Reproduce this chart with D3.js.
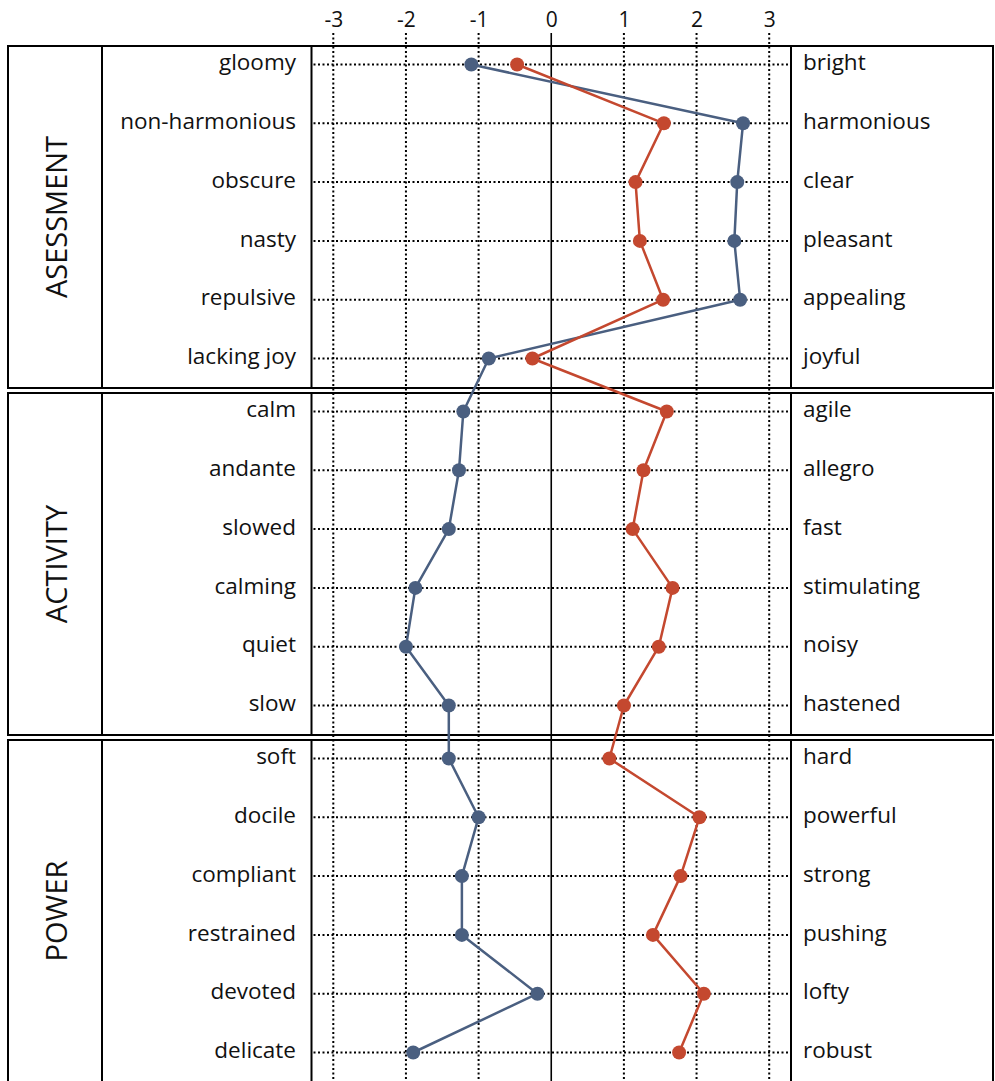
<!DOCTYPE html>
<html>
<head>
<meta charset="utf-8">
<script src="https://cdn.jsdelivr.net/npm/d3@7"></script>
<style>
  html, body { margin: 0; padding: 0; background: #fff; }
  svg { display: block; font-family: "Open Sans", "Noto Sans", sans-serif; }
</style>
</head>
<body>
<svg id="chart" width="995" height="1081"></svg>
<script>
// ---- data ----
const groups = ["ASESSMENT", "ACTIVITY", "POWER"];
const leftLabels = [
  "gloomy", "non-harmonious", "obscure", "nasty", "repulsive", "lacking joy",
  "calm", "andante", "slowed", "calming", "quiet", "slow",
  "soft", "docile", "compliant", "restrained", "devoted", "delicate"
];
const rightLabels = [
  "bright", "harmonious", "clear", "pleasant", "appealing", "joyful",
  "agile", "allegro", "fast", "stimulating", "noisy", "hastened",
  "hard", "powerful", "strong", "pushing", "lofty", "robust"
];
const blueValues = [
  -1.10, 2.64, 2.56, 2.52, 2.60, -0.86,
  -1.21, -1.27, -1.41, -1.87, -2.00, -1.41,
  -1.41, -1.00, -1.23, -1.23, -0.19, -1.90
];
const redValues = [
  -0.47, 1.55, 1.16, 1.22, 1.54, -0.26,
  1.59, 1.27, 1.12, 1.67, 1.48, 1.00,
  0.80, 2.04, 1.78, 1.40, 2.10, 1.76
];
const tickValues = [-3, -2, -1, 0, 1, 2, 3];
const tickLabels = ["-3", "-2", "-1", "0", "1", "2", "3"];
const rowsPerGroup = 6;

// ---- layout ----
const W = 995, H = 1081;
const boxLeft = 8, groupColRight = 102, labelColRight = 311.5, plotRight = 791, boxRight = 993;
const panelTop0 = 46, panelStep = 347, panelH = 342;
const blue = "#4a5f80", red = "#c4482f";

const svg = d3.select("#chart");

const x = d3.scaleLinear().domain([-3.3, 3.3]).range([labelColRight, plotRight]);
const panelTop = d3.scaleLinear().domain([0, 1]).range([panelTop0, panelTop0 + panelStep]);
const inner = d3.scalePoint().domain(d3.range(rowsPerGroup)).range([18.5, 312.5]);
const yRow = i => panelTop(Math.floor(i / rowsPerGroup)) + inner(i % rowsPerGroup);

// panels (boxes)
const panels = svg.append("g");
groups.forEach((g, k) => {
  const t = panelTop(k);
  const pg = panels.append("g");
  pg.append("rect")
    .attr("x", boxLeft).attr("y", t)
    .attr("width", boxRight - boxLeft).attr("height", panelH)
    .attr("fill", "none").attr("stroke", "#000").attr("stroke-width", 2);
  [groupColRight, labelColRight, plotRight].forEach(vx => {
    pg.append("line").attr("x1", vx).attr("x2", vx).attr("y1", t).attr("y2", t + panelH)
      .attr("stroke", "#000").attr("stroke-width", 2);
  });
  const cy = t + panelH / 2, cx = (boxLeft + groupColRight) / 2;
  pg.append("text")
    .attr("transform", `translate(${cx},${cy}) rotate(-90)`)
    .attr("text-anchor", "middle").attr("dominant-baseline", "central")
    .attr("font-size", 29).attr("font-weight", 400).attr("fill", "#111")
    .text(g);
});

// vertical grid lines
const gridTop = 33, gridBottom = H;
const grid = svg.append("g");
grid.selectAll("line.v").data(tickValues).join("line")
  .attr("class", "v")
  .attr("x1", d => x(d)).attr("x2", d => x(d))
  .attr("y1", gridTop).attr("y2", gridBottom)
  .attr("stroke", "#000")
  .attr("stroke-width", d => d === 0 ? 1.6 : 2)
  .attr("stroke-dasharray", d => d === 0 ? null : "2,2.5");

// horizontal grid lines
grid.selectAll("line.h").data(leftLabels).join("line")
  .attr("class", "h")
  .attr("x1", labelColRight + 2).attr("x2", plotRight)
  .attr("y1", (d, i) => yRow(i)).attr("y2", (d, i) => yRow(i))
  .attr("stroke", "#000").attr("stroke-width", 2).attr("stroke-dasharray", "2,2.5");

// tick labels (top axis)
const axis = d3.axisTop(x).tickValues(tickValues).tickSize(0).tickPadding(0)
  .tickFormat((d, i) => tickLabels[i]);
const axG = svg.append("g").attr("transform", "translate(0,27)").call(axis);
axG.select(".domain").remove();
axG.selectAll("text").attr("font-size", 21).attr("fill", "#111")
  .attr("font-family", "'Open Sans', sans-serif").attr("dy", 0);

// row labels
svg.append("g").selectAll("text").data(leftLabels).join("text")
  .attr("x", 296).attr("y", (d, i) => yRow(i))
  .attr("dy", "0.25em")
  .attr("text-anchor", "end").attr("font-size", 22.5).attr("fill", "#111")
  .text(d => d);
svg.append("g").selectAll("text").data(rightLabels).join("text")
  .attr("x", 803).attr("y", (d, i) => yRow(i))
  .attr("dy", "0.25em")
  .attr("text-anchor", "start").attr("font-size", 22.5).attr("fill", "#111")
  .text(d => d);

// series
const series = [
  { values: blueValues, color: blue },
  { values: redValues, color: red }
];
const line = d3.line().x(d => x(d.v)).y(d => yRow(d.i));
series.forEach(s => {
  const pts = s.values.map((v, i) => ({ v, i }));
  svg.append("path").datum(pts)
    .attr("d", line).attr("fill", "none")
    .attr("stroke", s.color).attr("stroke-width", 2.5).attr("stroke-linejoin", "round");
  svg.append("g").selectAll("circle").data(pts).join("circle")
    .attr("cx", d => x(d.v)).attr("cy", d => yRow(d.i)).attr("r", 7)
    .attr("fill", s.color);
});
</script>
</body>
</html>
